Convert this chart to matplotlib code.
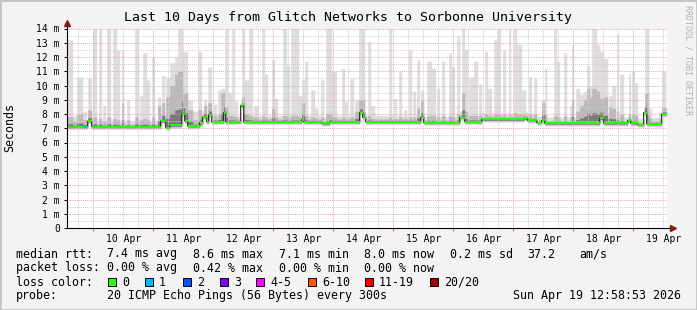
import numpy as np
import matplotlib.pyplot as plt
from matplotlib.patches import Rectangle

plt.rcParams['font.family'] = 'DejaVu Sans Mono'

# time in hours since 9 Apr 00:00
t_start, t_end = 13.33, 253.33

# median rtt (ms), step changes
med_start = [13.3, 21.8, 23.4, 51.0, 53.0, 54.6, 59.4, 60.6, 61.8, 66.6, 67.8,
             69.4, 70.2, 71.4, 76.2, 77.0, 83.0, 84.2, 107.4, 108.2, 115.4,
             118.6, 130.6, 131.8, 133.0, 155.0, 156.2, 170.6, 172.6, 179.4,
             196.2, 197.8, 201.4, 203.4, 204.6, 226.6, 228.2, 237.8, 239.0,
             241.8, 244.2, 245.4, 251.4]
med_val = [7.10, 7.50, 7.10, 7.50, 7.05, 7.20, 8.00, 7.50, 7.15, 7.35, 7.80,
           7.45, 7.95, 7.45, 8.10, 7.45, 8.60, 7.45, 7.60, 7.45, 7.35,
           7.45, 8.10, 7.75, 7.45, 7.75, 7.40, 7.75, 7.45, 7.62,
           7.70, 7.55, 7.40, 7.55, 7.35, 7.70, 7.35, 7.55, 7.35,
           7.25, 8.10, 7.30, 8.00]

# smoke spikes: start, end (hours), top of outer smoke, top of inner smoke (ms)
spike_start = [13.8, 15.8, 17.4, 19.8, 21.8, 23.8, 26.2, 27.8, 29.4, 31.8, 33.4,
               35.4, 37.4, 40.6, 42.6, 43.8, 45.4, 47.4, 49.8, 51.4, 53.0, 54.6,
               56.6, 57.8, 59.8, 61.8, 63.8, 65.8, 68.2, 69.8, 72.2, 73.8, 75.0,
               76.6, 77.8, 79.4, 80.6, 83.4, 84.6, 86.2, 88.2, 91.4, 92.6, 94.2,
               95.4, 96.6, 99.8, 101.4, 103.0, 106.2, 107.4, 108.6, 111.0, 112.6,
               115.0, 117.0, 119.4, 123.4, 124.6, 126.6, 128.6, 130.2, 133.8,
               135.0, 142.2, 144.2, 146.2, 148.2, 150.2, 151.8, 153.4, 155.0,
               157.4, 159.4, 161.4, 163.4, 166.2, 167.4, 169.4, 171.4, 172.6,
               174.2, 176.2, 178.2, 180.6, 181.8, 184.2, 185.4, 187.8, 190.2,
               192.2, 193.4, 195.4, 198.2, 200.2, 203.4, 204.6, 208.2, 209.4,
               212.2, 214.6, 215.4, 217.0, 218.6, 220.2, 221.4, 222.6, 223.4,
               225.4, 226.6, 228.2, 230.2, 231.4, 233.4, 234.6, 238.2, 239.4,
               240.6, 244.6, 246.2, 250.2, 251.4]
spike_end = [15.8, 17.4, 19.8, 21.4, 23.4, 25.4, 27.4, 29.0, 31.0, 33.4, 34.6,
             36.2, 38.6, 42.2, 43.8, 45.4, 46.6, 48.6, 51.0, 52.6, 54.6, 56.6,
             57.8, 59.8, 61.8, 63.8, 65.8, 67.4, 69.4, 71.4, 73.4, 75.0, 76.6,
             77.8, 79.4, 80.6, 81.8, 84.6, 86.2, 87.8, 90.2, 92.6, 93.8, 95.4,
             96.6, 97.8, 101.4, 102.6, 106.2, 107.4, 108.6, 109.8, 112.6, 113.8,
             116.2, 119.4, 121.4, 124.6, 125.8, 128.2, 130.2, 132.6, 135.0,
             136.6, 143.4, 145.4, 147.4, 149.4, 151.4, 153.0, 154.6, 156.2,
             159.4, 161.0, 162.6, 164.6, 167.4, 168.6, 170.6, 172.6, 173.8,
             176.2, 177.8, 179.4, 181.8, 183.4, 185.4, 187.0, 189.0, 191.0,
             193.4, 195.4, 197.0, 199.4, 201.4, 204.6, 205.4, 209.4, 210.6,
             213.4, 215.4, 216.2, 218.6, 220.2, 221.4, 222.6, 223.4, 225.4,
             226.6, 228.2, 229.8, 231.4, 233.0, 234.2, 236.2, 239.0, 240.6,
             241.8, 246.2, 247.4, 251.0, 253.0]
spike_top = [13.2, 7.9, 10.6, 8.2, 10.5, 14.0, 14.0, 8.6, 14.0, 14.0, 12.5,
             12.5, 9.0, 14.0, 9.3, 12.3, 10.4, 12.0, 9.2, 10.7, 10.6, 11.6,
             12.0, 14.0, 12.4, 9.0, 8.2, 12.4, 9.0, 11.3, 8.7, 9.7, 9.8,
             14.0, 9.5, 14.0, 8.9, 14.0, 10.4, 14.0, 8.6, 14.0, 10.8, 7.9,
             11.8, 9.1, 14.0, 11.4, 14.0, 9.3, 10.4, 11.7, 9.7, 8.4,
             10.4, 14.0, 11.0, 11.2, 8.9, 10.5, 9.0, 14.0, 13.1,
             8.6, 14.0, 9.1, 11.0, 8.3, 12.5, 9.6, 11.8, 9.7,
             11.7, 11.2, 9.8, 11.7, 12.3, 11.3, 13.5, 14.0, 12.5,
             10.6, 11.7, 10.1, 12.4, 9.8, 13.2, 14.0, 12.5, 14.0,
             14.0, 12.9, 9.7, 10.6, 10.5, 9.0, 11.2, 14.0, 11.7,
             12.3, 8.6, 12.9, 9.8, 9.4, 9.6, 11.4, 10.0, 14.0,
             12.9, 12.4, 11.9, 9.3, 10.0, 13.6, 10.8, 10.8, 11.0,
             10.2, 14.0, 8.4, 8.2, 11.0]
spike_mid = [7.8, 7.5, 8.0, 7.6, 8.3, 7.8, 7.7, 7.5, 7.8, 7.7, 7.6,
             8.8, 7.6, 7.8, 7.6, 7.7, 7.6, 7.8, 8.6, 8.8, 9.2, 10.0,
             10.8, 11.0, 9.5, 8.3, 7.6, 8.3, 8.6, 8.8, 7.9, 8.0, 9.5,
             8.5, 7.9, 7.9, 7.8, 9.2, 8.0, 7.9, 7.8, 7.9, 7.8, 7.7,
             8.4, 7.8, 7.9, 7.8, 7.9, 7.8, 8.8, 7.9, 7.8, 7.7,
             7.8, 8.0, 7.8, 7.8, 7.7, 7.8, 8.2, 9.0, 7.9,
             7.7, 7.8, 7.7, 7.8, 7.7, 7.8, 7.8, 8.4, 8.9,
             7.9, 7.9, 7.8, 7.9, 7.9, 7.8, 8.0, 9.5, 8.2,
             7.9, 7.9, 7.9, 8.0, 7.9, 8.0, 8.0, 8.0, 8.0,
             8.1, 8.0, 8.0, 8.0, 8.0, 8.8, 8.0, 7.9, 7.8,
             7.9, 7.8, 9.0, 8.2, 8.6, 9.0, 9.8, 9.2, 9.8,
             9.6, 9.1, 9.2, 8.5, 8.4, 8.2, 8.0, 8.0, 8.0,
             7.9, 9.5, 7.7, 7.7, 8.5]

# packet loss segments (loss color index)
loss_start = [20.2]
loss_end = [21.4]
loss_level = [1]

midnights = [24, 48, 72, 96, 120, 144, 168, 192, 216, 240]
day_labels = ['10 Apr', '11 Apr', '12 Apr', '13 Apr', '14 Apr',
              '15 Apr', '16 Apr', '17 Apr', '18 Apr', '19 Apr']
y_values = list(range(15))
y_labels = ['0'] + ['%d m' % v for v in range(1, 15)]

loss_names = ['0', '1', '2', '3', '4-5', '6-10', '11-19', '20/20']
loss_colors = ['#26ff00', '#00b8ff', '#0059ff', '#7e00ff', '#ff00ff',
               '#ff5500', '#ff0000', '#a10000']

W, H = 697, 310
fig = plt.figure(figsize=(W / 100, H / 100), dpi=100, facecolor='#f3f3f3')
ax = fig.add_axes([66.7 / W, (H - 228) / H, 600 / W, 199.5 / H])
ax.set_facecolor('white')

# build per-pixel columns
edges = np.linspace(t_start, t_end, 601)
centers = (edges[:-1] + edges[1:]) / 2
idx = np.searchsorted(med_start, centers, side='right') - 1
med = np.array(med_val)[idx]
top = med + 0.45
mid = med + 0.2
for s, e, tp, md in zip(spike_start, spike_end, spike_top, spike_mid):
    m = (centers >= s) & (centers < e)
    top[m] = np.maximum(top[m], tp)
    mid[m] = np.maximum(mid[m], md)
low = med - 0.2
dark = med + 0.3 * (mid - med)

def ext(a):
    return np.append(a, a[-1])

ax.fill_between(edges, ext(low), ext(top), step='post', color='#dedede', lw=0, zorder=1)
ax.fill_between(edges, ext(med - 0.12), ext(mid), step='post', color='#bababa', lw=0, zorder=1.5)
ax.fill_between(edges, ext(med - 0.06), ext(dark), step='post', color='#7a7a7a', lw=0, zorder=1.7)

# grid
for y in np.arange(0.5, 14, 1.0):
    ax.axhline(y, color='#cfcfcf', lw=0.7, ls=(0, (1, 1)), zorder=3)
for y in range(1, 15):
    ax.axhline(y, color='#efa8a8', lw=0.7, ls=(0, (1, 1)), zorder=3)
for t in range(18, 253, 6):
    if t % 24:
        ax.axvline(t, color='#cfcfcf', lw=0.7, ls=(0, (1, 1)), zorder=3)
for t in midnights:
    ax.axvline(t, color='#efa8a8', lw=0.7, ls=(0, (1, 1)), zorder=3)

# median line
ax.step(edges, ext(med), where='post', color='#202020', lw=0.8, zorder=4)
seg_end = med_start[1:] + [t_end]
ax.hlines(med_val, med_start, seg_end, color=loss_colors[0], lw=1.4, zorder=5)
for s, e, lv in zip(loss_start, loss_end, loss_level):
    i = np.searchsorted(med_start, s, side='right') - 1
    ax.hlines(med_val[i], s, e, color=loss_colors[lv], lw=1.4, zorder=6)

ax.set_xlim(t_start, t_end)
ax.set_ylim(0, 14)
for sp in ax.spines.values():
    sp.set_visible(False)

ax.set_yticks(y_values)
ax.set_yticklabels(y_labels, fontsize=7)
ax.tick_params(axis='y', length=2.5, width=0.7, pad=2.5, color='black')
ax.set_xticks([m + 12 for m in midnights])
ax.set_xticklabels(day_labels, fontsize=7)
ax.tick_params(axis='x', length=0, pad=4)
ax.set_xticks(midnights, minor=True)
ax.tick_params(axis='x', which='minor', length=2.5, width=0.7, color='#e06060')

# axis lines and arrows
ax.plot([0, 0], [0, 1.03], transform=ax.transAxes, color='black', lw=0.8, clip_on=False, zorder=7)
ax.plot([0, 1.01], [0, 0], transform=ax.transAxes, color='black', lw=0.8, clip_on=False, zorder=7)
ax.plot([0], [1.03], marker='^', ms=4.5, color='#8b1a1a', transform=ax.transAxes, clip_on=False, zorder=8)
ax.plot([1.01], [0], marker='>', ms=4.5, color='#8b1a1a', transform=ax.transAxes, clip_on=False, zorder=8)

def ftext(x, y, s, **kw):
    kw.setdefault('fontsize', 8.4)
    kw.setdefault('va', 'center')
    fig.text(x / W, 1 - y / H, s, **kw)

ftext(348, 18, 'Last 10 Days from Glitch Networks to Sorbonne University', fontsize=9.5, ha='center')
ftext(10, 128, 'Seconds', rotation=90, ha='center')
ftext(688, 5, 'RRDTOOL / TOBI OETIKER', fontsize=6, rotation=270, ha='center', va='top', color='#b0b0b0')

ftext(16, 254, 'median rtt:')
for x, s in zip([107, 193, 279, 364, 450, 527, 579],
                ['7.4 ms avg', '8.6 ms max', '7.1 ms min', '8.0 ms now', '0.2 ms sd', '37.2', 'am/s']):
    ftext(x, 254, s)
ftext(16, 268, 'packet loss:')
for x, s in zip([107, 193, 279, 364],
                ['0.00 % avg', '0.42 % max', '0.00 % min', '0.00 % now']):
    ftext(x, 268, s)
ftext(16, 282, 'loss color:')
box_x = [108, 145, 183, 220, 256, 308, 365, 430]
for bx, name, c in zip(box_x, loss_names, loss_colors):
    fig.add_artist(Rectangle((bx / W, 1 - 286 / H), 8 / W, 8 / H, transform=fig.transFigure,
                             facecolor=c, edgecolor='black', lw=0.7))
    ftext(bx + 14, 282, name)
ftext(16, 296, 'probe:')
ftext(107, 296, '20 ICMP Echo Pings (56 Bytes) every 300s')
ftext(681, 296, 'Sun Apr 19 12:58:53 2026', ha='right')

# frame
fig.add_artist(Rectangle((0, 0), 1, 1, transform=fig.transFigure, fill=False,
                         edgecolor='#c4c4c4', lw=2))

fig.savefig('out.png', dpi=100, facecolor=fig.get_facecolor())
